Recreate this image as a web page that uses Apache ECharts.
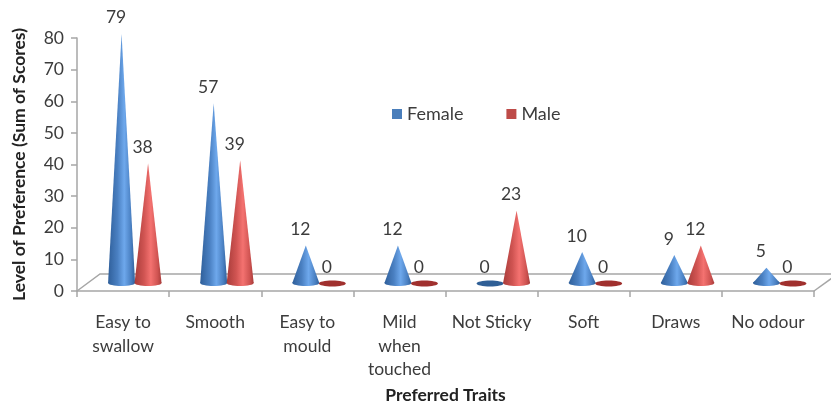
<!DOCTYPE html>
<html>
<head>
<meta charset="utf-8">
<style>
  html, body { margin: 0; padding: 0; background: #fff; }
  #chart { width: 831px; height: 402px; }
</style>
<script src="https://cdn.jsdelivr.net/npm/echarts@6/dist/echarts.min.js"></script>
</head>
<body>
<div id="chart"></div>
<script>
const categories = ['Easy to\nswallow', 'Smooth', 'Easy to\nmould', 'Mild\nwhen\ntouched', 'Not Sticky', 'Soft', 'Draws', 'No odour']
const female = [79, 57, 12, 12, 0, 10, 9, 5]
const male = [38, 39, 0, 0, 23, 0, 12, 0]
const yTicks = { min: 0, max: 80, interval: 10 }

const font = 'Lato, "Open Sans", sans-serif'
const textColor = '#3c3c3c'
const axisColor = '#a6a6a6'

function coneGradient(edge, mid, light) {
  return {
    type: 'linear', x: 0, y: 0, x2: 1, y2: 0,
    colorStops: [
      { offset: 0, color: edge },
      { offset: 0.35, color: mid },
      { offset: 0.6, color: light },
      { offset: 0.85, color: mid },
      { offset: 1, color: edge }
    ]
  }
}

const blueFill = coneGradient('#2f5f9a', '#4a80c2', '#6ea8ec')
const redFill = coneGradient('#a83c3a', '#d05452', '#f47270')

// draws one cone, the 3d floor shifts everything up from the axis line
function coneItem(offset, fill, flat) {
  return function (params, api) {
    const base = api.coord([api.value(0), 0])
    const top = api.coord([api.value(0), api.value(1)])
    const x = base[0] + offset
    const baseY = base[1] - 8
    const tipY = top[1] - 7.5
    const rx = 13.5
    const children = []
    if (api.value(1) === 0) {
      children.push({ type: 'ellipse', shape: { cx: x, cy: baseY + 0.5, rx: rx, ry: 3 }, style: { fill: flat } })
    } else {
      children.push({ type: 'polygon', shape: { points: [[x, tipY], [x - rx, baseY], [x + rx, baseY]] }, style: { fill: fill } })
      children.push({ type: 'ellipse', shape: { cx: x, cy: baseY, rx: rx, ry: 3 }, style: { fill: fill } })
    }
    children.push({
      type: 'text',
      style: {
        x: x - 5.5, y: tipY - 16, text: String(api.value(1)),
        fill: textColor, font: '17.5px ' + font, align: 'center', verticalAlign: 'middle'
      }
    })
    return { type: 'group', children: children }
  }
}

// floor of the 3d box, hangs off the same axes
function floorItem(params, api) {
  const left = api.coord([0, 0])
  const size = api.size([1, 0])
  const x0 = left[0] - size[0] / 2
  const x1 = x0 + size[0] * categories.length
  const y0 = left[1]
  const style = { fill: 'none', stroke: axisColor, lineWidth: 1.5 }
  return {
    type: 'group',
    children: [
      { type: 'polyline', shape: { points: [[x0, y0], [x0 + 23, y0 - 17], [x1 + 18, y0 - 17]] }, style: style },
      { type: 'polyline', shape: { points: [[x1, y0], [x1 + 18, y0 - 13]] }, style: style }
    ]
  }
}

const chart = echarts.init(document.getElementById('chart'), null, { renderer: 'canvas' })

chart.setOption({
  animation: false,
  backgroundColor: '#fff',
  textStyle: { fontFamily: font },
  grid: { left: 77, right: 17, top: 38, bottom: 111, outerBoundsMode: 'none' },
  legend: {
    data: ['Female', 'Male'],
    left: 387,
    top: 100,
    itemWidth: 10,
    itemHeight: 10,
    itemGap: 43,
    icon: 'rect',
    textStyle: { fontFamily: font, fontSize: 18, color: textColor, padding: [0, 0, 0, 0] }
  },
  xAxis: {
    type: 'category',
    data: categories,
    name: 'Preferred Traits',
    nameLocation: 'middle',
    nameGap: 92,
    nameTextStyle: { fontFamily: font, fontWeight: 'bold', fontSize: 17.5, color: '#222' },
    axisLine: { lineStyle: { color: axisColor, width: 1.5 } },
    axisTick: { show: true, alignWithLabel: false, length: 6, lineStyle: { color: axisColor, width: 1.5 } },
    axisLabel: { interval: 0, margin: 20, fontSize: 17.5, lineHeight: 23.5, color: textColor, fontFamily: font },
    splitLine: { show: false }
  },
  yAxis: {
    type: 'value',
    min: yTicks.min,
    max: yTicks.max,
    interval: yTicks.interval,
    name: 'Level of Preference (Sum of Scores)',
    nameLocation: 'middle',
    nameGap: 49,
    nameTextStyle: { fontFamily: font, fontWeight: 'bold', fontSize: 17.5, color: '#222' },
    axisLine: { show: true, lineStyle: { color: axisColor, width: 1.5 } },
    axisTick: { show: true, length: 6, lineStyle: { color: axisColor, width: 1.5 } },
    axisLabel: { margin: 13, fontSize: 17.5, color: textColor, fontFamily: font },
    splitLine: { show: false }
  },
  series: [
    {
      name: 'floor',
      type: 'custom',
      coordinateSystem: 'cartesian2d',
      renderItem: floorItem,
      data: [[0, 0]],
      encode: { x: 0, y: 1 },
      silent: true,
      z: 1
    },
    {
      name: 'Female',
      type: 'custom',
      coordinateSystem: 'cartesian2d',
      renderItem: coneItem(-1.5, blueFill, '#2f5f96'),
      itemStyle: { color: '#4a7ebb' },
      data: female.map((v, i) => [i, v]),
      encode: { x: 0, y: 1 },
      z: 2
    },
    {
      name: 'Male',
      type: 'custom',
      coordinateSystem: 'cartesian2d',
      renderItem: coneItem(25, redFill, '#a0302e'),
      itemStyle: { color: '#be4b48' },
      data: male.map((v, i) => [i, v]),
      encode: { x: 0, y: 1 },
      z: 3
    }
  ]
})
</script>
</body>
</html>
